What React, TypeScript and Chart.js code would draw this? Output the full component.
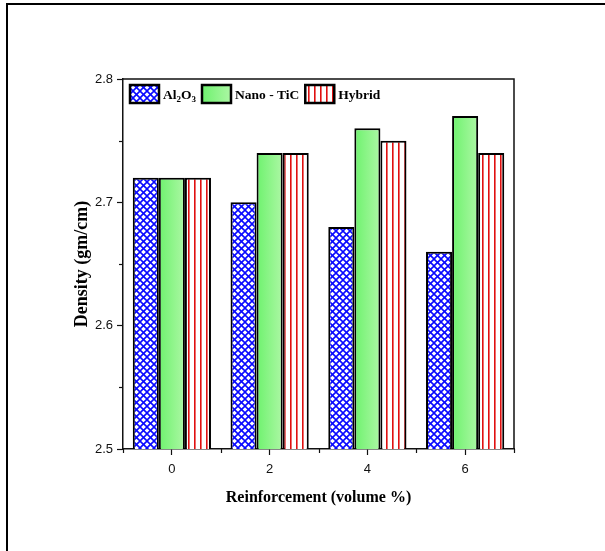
import React, { useEffect, useRef } from 'react';
import { Chart, registerables } from 'chart.js';

Chart.register(...registerables);

// ---- data ----
const categories = ['0', '2', '4', '6'];
const al2o3 = [2.72, 2.7, 2.68, 2.66];
const nanoTiC = [2.72, 2.74, 2.76, 2.77];
const hybrid = [2.72, 2.74, 2.75, 2.74];
const seriesLabels = ['Al2O3', 'Nano - TiC', 'Hybrid'];
const yMin = 2.5;
const yMax = 2.8;
const yStep = 0.1;
const yMinorTicks = [2.55, 2.65, 2.75];
const xTitle = 'Reinforcement (volume %)';
const yTitle = 'Density (gm/cm)';

const SERIF = "'Liberation Serif', 'Times New Roman', Times, serif";
const SANS = "'Liberation Sans', Arial, Helvetica, sans-serif";

function makeCrossHatch(): CanvasPattern | string {
  const s = 7;
  const c = document.createElement('canvas');
  c.width = s;
  c.height = s;
  const g = c.getContext('2d');
  if (!g) return '#fff';
  g.fillStyle = '#ffffff';
  g.fillRect(0, 0, s, s);
  g.strokeStyle = '#0a0aff';
  g.lineWidth = 1.6;
  for (const dx of [-s, 0, s]) {
    g.beginPath();
    g.moveTo(dx, 0);
    g.lineTo(dx + s, s);
    g.stroke();
    g.beginPath();
    g.moveTo(dx + s, 0);
    g.lineTo(dx, s);
    g.stroke();
  }
  const p = g.createPattern(c, 'repeat');
  return p || '#fff';
}

function makeStripes(): CanvasPattern | string {
  const w = 6;
  const c = document.createElement('canvas');
  c.width = w;
  c.height = 6;
  const g = c.getContext('2d');
  if (!g) return '#fff';
  g.fillStyle = '#ffffff';
  g.fillRect(0, 0, w, 6);
  g.fillStyle = '#e01010';
  g.fillRect(2, 0, 1.6, 6);
  const p = g.createPattern(c, 'repeat');
  return p || '#fff';
}

function greenGradient(ctx: CanvasRenderingContext2D, left: number, width: number) {
  const gr = ctx.createLinearGradient(left, 0, left + width, 0);
  gr.addColorStop(0, '#6ef26e');
  gr.addColorStop(1, '#acf7a4');
  return gr;
}

export default function App() {
  const ref = useRef<HTMLCanvasElement | null>(null);

  useEffect(() => {
    const canvas = ref.current;
    if (!canvas) return;
    const cross = makeCrossHatch();
    const stripes = makeStripes();

    const greenFill = (context: any) => {
      const chart = context.chart;
      const xs = chart.scales?.x;
      if (!xs || !chart.chartArea) return '#8ef58a';
      const cat = (chart.chartArea.right - chart.chartArea.left) / categories.length;
      const bw = (cat * 0.8) / 3;
      const cx = xs.getPixelForValue(context.dataIndex ?? 0);
      return greenGradient(chart.ctx, cx - bw / 2, bw);
    };

    const framePlugin = {
      id: 'frame',
      beforeDraw(chart: any) {
        const c = chart.ctx;
        c.save();
        c.fillStyle = '#ffffff';
        c.fillRect(0, 0, chart.width, chart.height);
        c.fillStyle = '#000000';
        c.fillRect(6, 3, chart.width - 6, 2);
        c.fillRect(6, 3, 2, chart.height - 3);
        c.restore();
      },
      afterDraw(chart: any) {
        const c = chart.ctx;
        const a = chart.chartArea;
        c.save();
        c.strokeStyle = '#111';
        c.lineWidth = 1.5;
        c.beginPath();
        c.moveTo(a.left, a.top);
        c.lineTo(a.right, a.top);
        c.lineTo(a.right, a.bottom);
        c.stroke();
        // minor ticks
        c.lineWidth = 1.2;
        const ys = chart.scales.y;
        for (const v of yMinorTicks) {
          const py = Math.round(ys.getPixelForValue(v)) + 0.5;
          c.beginPath();
          c.moveTo(a.left - 4, py);
          c.lineTo(a.left, py);
          c.stroke();
        }
        const n = categories.length;
        const cw = (a.right - a.left) / n;
        for (let i = 0; i <= n; i++) {
          const px = Math.round(a.left + i * cw) + 0.5;
          c.beginPath();
          c.moveTo(px, a.bottom);
          c.lineTo(px, a.bottom + 4);
          c.stroke();
        }
        // legend
        const fills: any[] = [cross, null, stripes];
        let x = a.left + 7;
        const top = a.top + 6;
        const bh = 18;
        const bwid = 29;
        c.textBaseline = 'alphabetic';
        for (let i = 0; i < seriesLabels.length; i++) {
          c.fillStyle = fills[i] ?? greenGradient(c, x, bwid);
          c.fillRect(x, top, bwid, bh);
          c.strokeStyle = '#000';
          c.lineWidth = 2.5;
          c.strokeRect(x, top, bwid, bh);
          x += bwid + 4;
          c.fillStyle = '#000';
          const base = top + bh / 2 + 4.5;
          if (i === 0) {
            const parts: [string, boolean][] = [
              ['Al', false],
              ['2', true],
              ['O', false],
              ['3', true],
            ];
            for (const [t, sub] of parts) {
              c.font = sub ? `bold 9px ${SERIF}` : `bold 13.5px ${SERIF}`;
              c.fillText(t, x, sub ? base + 3 : base);
              x += c.measureText(t).width;
            }
          } else {
            c.font = `bold 13.5px ${SERIF}`;
            c.fillText(seriesLabels[i], x, base);
            x += c.measureText(seriesLabels[i]).width;
          }
          x += 6;
        }
        c.restore();
      },
    };

    const chart = new Chart(canvas, {
      type: 'bar',
      data: {
        labels: categories,
        datasets: [
          {
            label: seriesLabels[0],
            data: al2o3,
            backgroundColor: cross as any,
            borderColor: '#000',
            borderWidth: 2,
          },
          {
            label: seriesLabels[1],
            data: nanoTiC,
            backgroundColor: greenFill as any,
            borderColor: '#000',
            borderWidth: 2,
          },
          {
            label: seriesLabels[2],
            data: hybrid,
            backgroundColor: stripes as any,
            borderColor: '#000',
            borderWidth: 2,
          },
        ],
      },
      options: {
        responsive: false,
        animation: false,
        events: [],
        datasets: {
          bar: { categoryPercentage: 0.8, barPercentage: 1.0 },
        },
        layout: { padding: { left: 68, right: 91, top: 79, bottom: 40 } },
        plugins: {
          legend: { display: false },
          tooltip: { enabled: false },
        },
        scales: {
          x: {
            afterFit: (s: any) => {
              s.height = 62;
            },
            grid: {
              offset: false,
              drawOnChartArea: false,
              drawTicks: true,
              tickLength: 6,
              tickColor: '#111',
              tickWidth: 1.2,
            },
            border: { display: true, color: '#111', width: 1.5 },
            ticks: {
              color: '#111',
              font: { family: SANS, size: 13 },
              padding: 7,
            },
            title: {
              display: true,
              text: xTitle,
              color: '#000',
              font: { family: SERIF, size: 16, weight: 'bold' },
              padding: { top: 4, bottom: 4 },
            },
          },
          y: {
            min: yMin,
            max: yMax,
            afterFit: (s: any) => {
              s.width = 55;
            },
            grid: {
              drawOnChartArea: false,
              drawTicks: true,
              tickLength: 6,
              tickColor: '#111',
              tickWidth: 1.2,
            },
            border: { display: true, color: '#111', width: 1.5 },
            ticks: {
              stepSize: yStep,
              color: '#111',
              font: { family: SANS, size: 13 },
              padding: 4,
              callback: (v: any) => Number(v).toFixed(1),
            },
            title: {
              display: true,
              text: yTitle,
              color: '#000',
              font: { family: SERIF, size: 18, weight: 'bold' },
              padding: { top: 4, bottom: 4 },
            },
          },
        },
      },
      plugins: [framePlugin],
    });

    return () => {
      chart.destroy();
    };
  }, []);

  return (
    <div style={{ position: 'absolute', left: 0, top: 0, width: 605, height: 551, background: '#fff' }}>
      <canvas ref={ref} width={605} height={551} style={{ display: 'block' }} />
    </div>
  );
}
